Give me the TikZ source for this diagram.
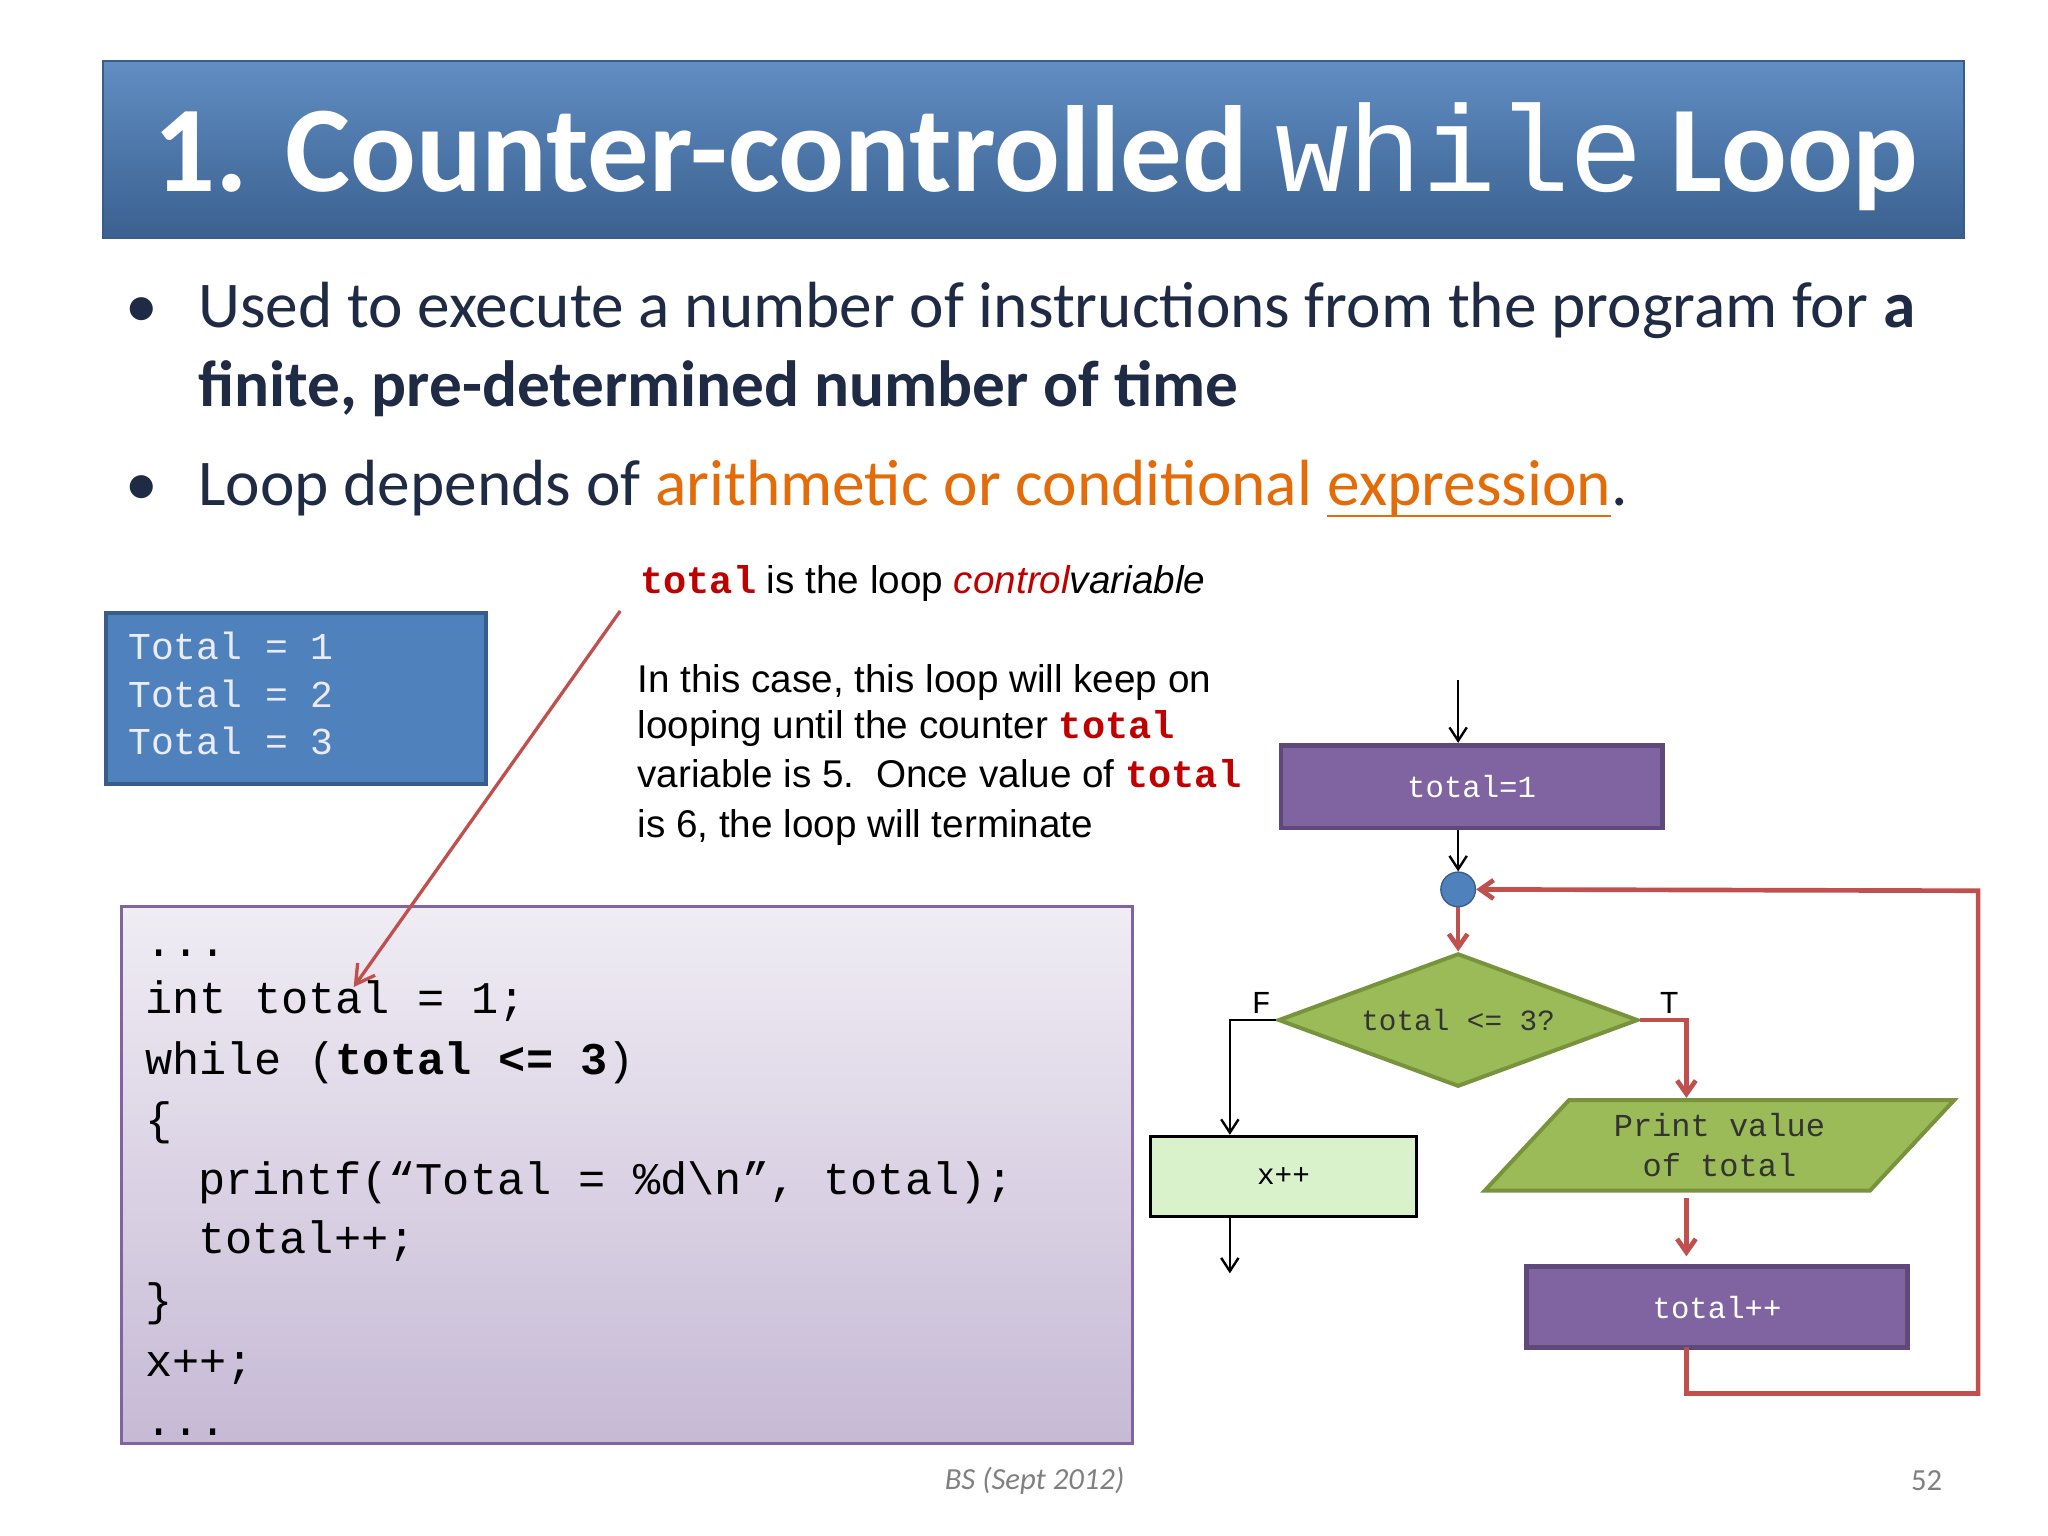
\documentclass[tikz,border=0pt]{standalone}
\usepackage{fontspec}
\setmainfont{Carlito}
\newfontfamily\ars{Liberation Sans}
\setmonofont{Liberation Mono}
\usetikzlibrary{shapes.geometric,arrows.meta}
\definecolor{navy}{HTML}{1F2A44}
\definecolor{orng}{HTML}{E36C09}
\definecolor{dred}{HTML}{C00000}
\definecolor{fred}{HTML}{C0504D}
\definecolor{pur}{HTML}{8064A2}
\definecolor{purd}{HTML}{5F497A}
\definecolor{grn}{HTML}{9BBB59}
\definecolor{grnd}{HTML}{77933C}
\definecolor{blu}{HTML}{4F81BD}
\definecolor{blud}{HTML}{385D8A}
\begin{document}
\begin{tikzpicture}[x=0.99pt,y=-0.99pt,
 blk/.style={-{Straight Barb[length=10pt,width=13pt]},black,line width=1.8pt},
 rd/.style={-{Straight Barb[length=10pt,width=14pt]},fred,line width=3.5pt},
 purbox/.style={draw=purd,line width=3.5pt,fill=pur,text=white,font=\ttfamily\fontsize{23}{25}\selectfont},
 txt/.style={anchor=base west,inner sep=0pt}]
\useasboundingbox (0,0) rectangle (1552,1164);
\fill[white] (0,0) rectangle (1552,1164);
% title
\shade[top color=blu!90!white,bottom color=blud!90!blu] (78,46) rectangle (1488,180);
\draw[blud,line width=1.5pt] (78,46) rectangle (1488,180);
\node[txt,text=white] (title) at (116,145) {\fontsize{92}{96}\selectfont\bfseries 1. Counter-controlled {\mdseries\ttfamily while} Loop};
% bullets
\node[txt,text=navy] (b1) at (95,248) {\fontsize{49}{52}\selectfont •};
\node[txt,text=navy] (t1) at (150,248) {\fontsize{49}{52}\selectfont Used to execute a number of instructions from the program for \textbf{a}};
\node[txt,text=navy] (t1b) at (150,308) {\fontsize{49}{52}\selectfont\bfseries finite, pre-determined number of time};
\node[txt,text=navy] (b2) at (95,383) {\fontsize{49}{52}\selectfont •};
\node[txt,text=navy] (t2) at (150,383) {\fontsize{49}{52}\selectfont Loop depends of \textcolor{orng}{arithmetic or conditional }};
\node[txt,text=orng] (t2b) at (t2.base east) {\fontsize{49}{52}\selectfont expression};
\draw[orng,line width=1.8pt] ([yshift=-8pt]t2b.base west) -- ([yshift=-8pt]t2b.base east);
\node[txt,text=navy] (t2c) at (t2b.base east) {\fontsize{49}{52}\selectfont .};
% output box
\node[draw=blud,line width=3pt,fill=blu,minimum width=285pt,minimum height=128pt,anchor=north west] (out) at (79,463) {};
\foreach \i/\y in {1/500,2/536,3/572}
  \node[txt,text=blue!8!white] (o\i) at (97,\y) {\ttfamily\fontsize{28.5}{30}\selectfont Total = \i};
% annotation
\node[txt] (ann) at (485,450) {\ars\fontsize{29}{31}\selectfont\textcolor{dred}{\ttfamily\bfseries total} is the loop \textit{\textcolor{dred}{control}variable}};
\node[txt] (p1) at (483,525) {\ars\fontsize{29}{31}\selectfont In this case, this loop will keep on};
\node[txt] (p2) at (483,560) {\ars\fontsize{29}{31}\selectfont looping until the counter \textcolor{dred}{\ttfamily\bfseries total}};
\node[txt] (p3) at (483,597) {\ars\fontsize{29}{31}\selectfont variable is 5.\ \ Once value of \textcolor{dred}{\ttfamily\bfseries total}};
\node[txt] (p4) at (483,635) {\ars\fontsize{29}{31}\selectfont is 6, the loop will terminate};
% code box
\shade[top color=pur!12!white,bottom color=pur!45!white] (92,687) rectangle (858,1094);
\draw[pur,line width=2pt] (92,687) rectangle (858,1094);
\coordinate (aS) at (470,463);
\coordinate (aE) at (268,748);
\draw[-{Straight Barb[length=14pt,width=16pt]},fred,line width=2.5pt] (aS) -- (aE);
\begin{scope}[every node/.style={txt,font=\ttfamily\fontsize{34}{36}\selectfont}]
\node (c1) at (110,725) {...};
\node (c2) at (110,768) {int total = 1;};
\node (c3) at (110,814) {while (\textbf{total <= 3})};
\node (c4) at (110,860) {\{};
\node (c5) at (150,905) {printf(“Total = \%d\textbackslash n”, total);};
\node (c6) at (150,950) {total++;};
\node (c7) at (110,997) {\}};
\node (c8) at (110,1043) {x++;};
\end{scope}
\begin{scope}
\clip (92,1060) rectangle (858,1093);
\node[txt,font=\ttfamily\fontsize{34}{36}\selectfont] (c9) at (110,1088) {...};
\end{scope}
% footer
\node[text=gray,font=\itshape\fontsize{23}{25}\selectfont] (foot) at (784,1122) {BS (Sept 2012)};
\node[text=gray,font=\fontsize{23}{25}\selectfont] (pg) at (1460,1122) {52};
% flowchart
\coordinate (start) at (1105,515);
\node[purbox,minimum width=286pt,minimum height=62pt,anchor=north west] (init) at (969,563) {total=1};
\node[circle,fill=blu,draw=blud,line width=1pt,minimum size=26pt,inner sep=0pt] (j) at (1105,674) {};
\node[diamond,aspect=2.7,fill=grn,draw=grnd,line width=3pt,minimum width=270pt,minimum height=100pt,inner sep=0pt,font=\ttfamily\fontsize{22}{24}\selectfont,text=black!80] (dec) at (1105,773) {total <= 3?};
\node[draw=black,line width=2.2pt,fill=green!50!olive!20!white,minimum width=199pt,minimum height=60pt,anchor=north west,font=\ttfamily\fontsize{22}{24}\selectfont] (xpp) at (871,860) {x++};
\node[trapezium,trapezium left angle=47,trapezium right angle=133,fill=grn,draw=grnd,line width=3pt,minimum width=320pt,minimum height=68pt,inner sep=0pt,align=center,font=\ttfamily\fontsize{24}{30}\selectfont,text=black!80] (prt) at (1303,868) {Print value\\of total};
\node[purbox,minimum width=286pt,minimum height=61pt,anchor=north west] (inc) at (1155,958) {total++};
\coordinate (fL) at (932,773);
\coordinate (tR) at (1278,773);
\coordinate (xEnd) at (932,965);
\coordinate (lb) at (1278,1056);
\coordinate (rb) at (1499,1056);
\coordinate (rt) at (1499,675);
\draw[blk] (start) -- (start|-init.north);
\draw[blk] (start|-init.south) -- (j.north);
\draw[rd] (j.south) -- (dec.north);
\draw[blk] (dec.west) -- (fL) -- (fL|-xpp.north);
\draw[blk] (fL|-xpp.south) -- (xEnd);
\draw[rd] (dec.east) -- (tR) -- (1278,832);
\draw[rd] (1278,908) -- (1278,952);
\draw[rd] (1278,1021) -- (lb) -- (rb) -- (rt) -- (j.east);
\node[font=\fontsize{24}{26}\selectfont,anchor=base] (F) at (956,768) {\ttfamily F};
\node[font=\fontsize{24}{26}\selectfont,anchor=base] (T) at (1265,768) {\ttfamily T};
\end{tikzpicture}
\end{document}
